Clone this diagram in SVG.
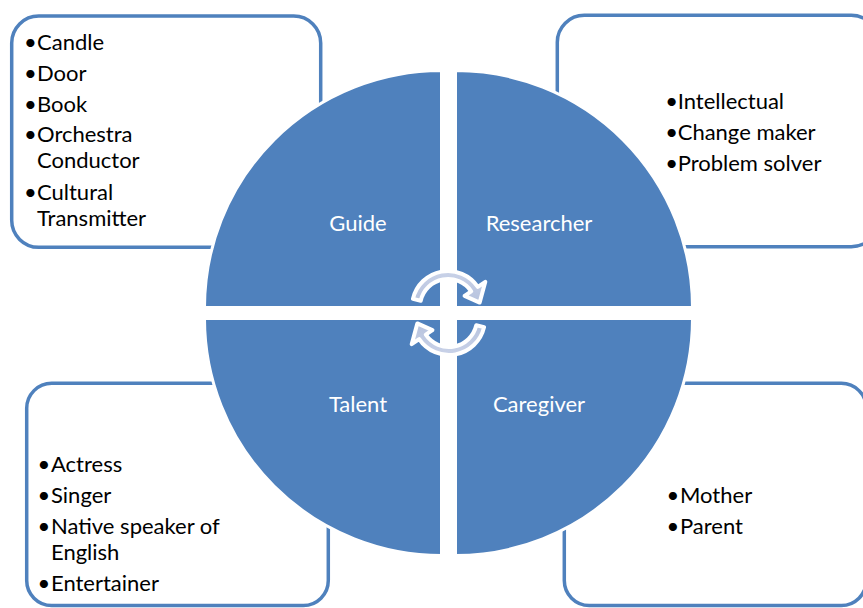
<svg xmlns="http://www.w3.org/2000/svg" width="863" height="608" viewBox="0 0 863 608">
  <style>
    .box { fill: #ffffff; stroke: #4f81bd; stroke-width: 3.5; }
    .quad { fill: #4f81bd; stroke: #ffffff; stroke-width: 3; }
    .qlabel { font-family: Lato, "Liberation Sans", sans-serif; font-size: 22px; fill: #ffffff; text-anchor: middle; }
    .item { font-family: Lato, "Liberation Sans", sans-serif; font-size: 22px; fill: #000000; }
    .bullet { font-family: Lato, "Liberation Sans", sans-serif; font-size: 22px; fill: #000000; text-anchor: middle; }
    .cyc { fill: url(#arrowFill); stroke: #ffffff; stroke-width: 4; stroke-linejoin: round; }
  </style>
  <defs>
    <linearGradient id="arrowFill" x1="0" y1="0" x2="0" y2="1">
      <stop offset="0" stop-color="#c9d2e8"/>
      <stop offset="1" stop-color="#b7c3de"/>
    </linearGradient>
  </defs>

  <rect width="863" height="608" fill="#ffffff"/>

  <!-- outer text boxes -->
  <g id="box-guide">
    <rect class="box" x="11.7" y="16" width="309" height="231.3" rx="27" ry="27"/>
  </g>
  <g id="box-researcher">
    <rect class="box" x="557.3" y="15.3" width="321" height="231.4" rx="27" ry="27"/>
  </g>
  <g id="box-talent">
    <rect class="box" x="26.7" y="383.3" width="301.6" height="222.2" rx="25" ry="25"/>
  </g>
  <g id="box-caregiver">
    <rect class="box" x="564.3" y="383.3" width="302" height="222.2" rx="25" ry="25"/>
  </g>

  <!-- quadrants -->
  <g id="quad-guide">
    <path class="quad" d="M441.5,307.5 L204.5,307.5 A237,237 0 0 1 441.5,70.5 Z"/>
    <text class="qlabel" x="358" y="231">Guide</text>
  </g>
  <g id="quad-researcher">
    <path class="quad" d="M455.5,307.5 L455.5,70.5 A237,237 0 0 1 692.5,307.5 Z"/>
    <text class="qlabel" x="539" y="231">Researcher</text>
  </g>
  <g id="quad-talent">
    <path class="quad" d="M441.5,318.5 L441.5,555.5 A237,237 0 0 1 204.5,318.5 Z"/>
    <text class="qlabel" x="358" y="412">Talent</text>
  </g>
  <g id="quad-caregiver">
    <path class="quad" d="M455.5,318.5 L692.5,318.5 A237,237 0 0 1 455.5,555.5 Z"/>
    <text class="qlabel" x="539" y="412">Caregiver</text>
  </g>

  <!-- cycle arrows -->
  <g id="connectors">
    <path id="cycle-top" class="cyc" d="M412.92,298.90 A36,36 0 0 1 477.84,286.87 L485.31,281.84 L479.69,302.55 L464.58,295.82 L471.21,291.34 A28,28 0 0 0 420.72,300.70 Z"/>
    <path id="cycle-bottom" class="cyc" transform="rotate(180 448.5 313)" d="M412.92,298.90 A36,36 0 0 1 477.84,286.87 L485.31,281.84 L479.69,302.55 L464.58,295.82 L471.21,291.34 A28,28 0 0 0 420.72,300.70 Z"/>
  </g>

  <!-- box texts -->
  <g id="text-guide">
    <text class="bullet" x="30.3" y="50">•</text><text class="item" x="37" y="50">Candle</text>
    <text class="bullet" x="30.3" y="81">•</text><text class="item" x="37" y="81">Door</text>
    <text class="bullet" x="30.3" y="111.5">•</text><text class="item" x="37" y="111.5">Book</text>
    <text class="bullet" x="30.3" y="142">•</text><text class="item" x="37" y="142">Orchestra</text>
    <text class="item" x="37" y="168">Conductor</text>
    <text class="bullet" x="30.3" y="200">•</text><text class="item" x="37" y="200">Cultural</text>
    <text class="item" x="37" y="225.5">Transmitter</text>
  </g>
  <g id="text-researcher">
    <text class="bullet" x="671.7" y="109">•</text><text class="item" x="677.7" y="109">Intellectual</text>
    <text class="bullet" x="671.7" y="140">•</text><text class="item" x="677.7" y="140">Change maker</text>
    <text class="bullet" x="671.7" y="171">•</text><text class="item" x="677.7" y="171">Problem solver</text>
  </g>
  <g id="text-talent">
    <text class="bullet" x="44" y="472">•</text><text class="item" x="51" y="472">Actress</text>
    <text class="bullet" x="44" y="503">•</text><text class="item" x="51" y="503">Singer</text>
    <text class="bullet" x="44" y="533.5">•</text><text class="item" x="51" y="533.5">Native speaker of</text>
    <text class="item" x="51" y="560">English</text>
    <text class="bullet" x="44" y="590.5">•</text><text class="item" x="51" y="590.5">Entertainer</text>
  </g>
  <g id="text-caregiver">
    <text class="bullet" x="673" y="503">•</text><text class="item" x="680" y="503">Mother</text>
    <text class="bullet" x="673" y="533.5">•</text><text class="item" x="680" y="533.5">Parent</text>
  </g>
</svg>
